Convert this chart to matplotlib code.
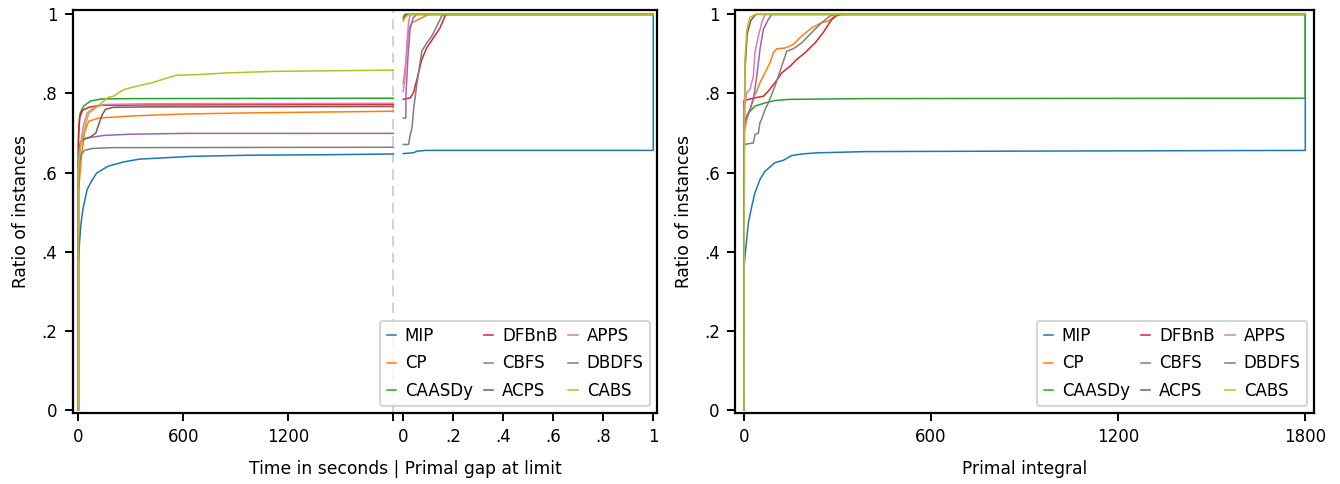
import matplotlib
matplotlib.use("Agg")
import matplotlib.pyplot as plt

plt.rcParams['font.family'] = ['DejaVu Sans']
plt.rcParams['font.size'] = 12

names = ["MIP", "CP", "CAASDy", "DFBnB", "CBFS", "ACPS", "APPS", "DBDFS", "CABS"]
colors = ["#1f77b4", "#ff7f0e", "#2ca02c", "#d62728", "#9467bd",
          "#8c564b", "#e377c2", "#7f7f7f", "#bcbd22"]

# ---- Left panel: time in seconds (0..1800) ----
time_t = {
    "MIP":    [0, 0, 6, 15, 25, 50, 75, 105, 170, 260, 350, 650, 1000, 1400, 1800],
    "CP":     [0, 0, 10, 20, 35, 50, 60, 120, 300, 600, 1000, 1800],
    "CAASDy": [0, 0, 3, 10, 30, 70, 130, 300, 1800],
    "DFBnB":  [0, 0, 2, 8, 25, 60, 120, 400, 1800],
    "CBFS":   [0, 0, 10, 30, 70, 150, 300, 600, 1800],
    "ACPS":   [0, 0, 10, 30, 70, 100, 115, 135, 155, 200, 400, 1800],
    "APPS":   [0, 0, 15, 30, 50, 90, 150, 400, 1800],
    "DBDFS":  [0, 0, 5, 15, 35, 80, 200, 1800],
    "CABS":   [0, 0, 5, 15, 40, 60, 90, 130, 170, 200, 260, 330, 420, 500, 560, 700, 850, 1130, 1800],
}
time_r = {
    "MIP":    [0, 0.37, 0.42, 0.47, 0.505, 0.557, 0.578, 0.599, 0.616, 0.627, 0.634, 0.641, 0.644, 0.645, 0.647],
    "CP":     [0, 0.55, 0.60, 0.65, 0.70, 0.72, 0.73, 0.738, 0.743, 0.748, 0.751, 0.755],
    "CAASDy": [0, 0.68, 0.72, 0.75, 0.768, 0.781, 0.786, 0.787, 0.788],
    "DFBnB":  [0, 0.66, 0.70, 0.74, 0.758, 0.765, 0.770, 0.771, 0.772],
    "CBFS":   [0, 0.64, 0.675, 0.685, 0.689, 0.694, 0.697, 0.699, 0.699],
    "ACPS":   [0, 0.62, 0.67, 0.684, 0.690, 0.70, 0.72, 0.745, 0.76, 0.765, 0.766, 0.767],
    "APPS":   [0, 0.62, 0.68, 0.72, 0.75, 0.765, 0.772, 0.774, 0.775],
    "DBDFS":  [0, 0.58, 0.62, 0.645, 0.656, 0.661, 0.663, 0.664],
    "CABS":   [0, 0.60, 0.64, 0.67, 0.72, 0.75, 0.76, 0.775, 0.79, 0.793, 0.81, 0.818, 0.827, 0.838, 0.846, 0.848, 0.852, 0.856, 0.859],
}

# ---- Left panel: primal gap at limit (0..1) ----
gap_g = {
    "MIP":    [0, 0.041, 0.055, 0.088, 1.0, 1.0],
    "CP":     [0, 0.007, 0.015, 0.021, 0.034, 0.061, 0.088, 0.10, 1.0],
    "CAASDy": [0, 0.006, 1.0],
    "DFBnB":  [0, 0.028, 0.041, 0.061, 0.074, 0.094, 0.121, 0.147, 0.167, 0.174, 1.0],
    "CBFS":   [0, 0.010, 0.011, 0.018, 0.027, 0.040, 0.054, 1.0],
    "ACPS":   [0, 0.012, 1.0],
    "APPS":   [0, 0.007, 0.015, 0.021, 0.028, 1.0],
    "DBDFS":  [0, 0.021, 0.028, 0.035, 0.041, 0.055, 0.074, 0.094, 0.114, 0.134, 0.154, 0.167, 1.0],
    "CABS":   [0, 0.007, 0.021, 1.0],
}
gap_r = {
    "MIP":    [0.648, 0.650, 0.654, 0.656, 0.656, 1.0],
    "CP":     [0.825, 0.861, 0.911, 0.962, 0.979, 0.987, 0.996, 1.0, 1.0],
    "CAASDy": [0.992, 1.0, 1.0],
    "DFBnB":  [0.785, 0.789, 0.802, 0.852, 0.886, 0.916, 0.941, 0.966, 0.996, 1.0, 1.0],
    "CBFS":   [0.738, 0.738, 0.80, 0.886, 0.962, 0.992, 1.0, 1.0],
    "ACPS":   [0.988, 1.0, 1.0],
    "APPS":   [0.805, 0.844, 0.928, 0.980, 1.0, 1.0],
    "DBDFS":  [0.671, 0.671, 0.696, 0.713, 0.759, 0.827, 0.907, 0.928, 0.945, 0.970, 0.996, 1.0, 1.0],
    "CABS":   [0.983, 0.992, 1.0, 1.0],
}

# ---- Right panel: primal integral (0..1800) ----
pi_x = {
    "MIP":    [0, 0, 3, 14, 25, 35, 51, 67, 99, 126, 153, 185, 238, 292, 388, 800, 1800, 1800],
    "CP":     [0, 0, 9, 19, 30, 41, 51, 67, 83, 94, 105, 132, 158, 185, 217, 249, 270, 292, 302, 1800],
    "CAASDy": [0, 0, 14, 35, 67, 99, 142, 388, 1800, 1800],
    "DFBnB":  [0, 0, 35, 62, 78, 99, 121, 148, 169, 196, 228, 254, 281, 297, 313, 1800],
    "CBFS":   [0, 0, 9, 19, 30, 41, 51, 62, 78, 89, 1800],
    "ACPS":   [0, 1, 3, 10, 22, 38, 1800],
    "APPS":   [0, 0, 9, 19, 30, 35, 46, 57, 67, 1800],
    "DBDFS":  [0, 0, 30, 35, 46, 51, 56, 67, 78, 99, 121, 137, 158, 185, 217, 249, 276, 292, 1800],
    "CABS":   [0, 1, 2, 3, 9, 19, 35, 1800],
}
pi_r = {
    "MIP":    [0, 0.36, 0.388, 0.473, 0.515, 0.549, 0.582, 0.603, 0.625, 0.631, 0.643, 0.647, 0.650, 0.651, 0.653, 0.654, 0.656, 1.0],
    "CP":     [0, 0.70, 0.734, 0.759, 0.789, 0.806, 0.827, 0.852, 0.877, 0.903, 0.913, 0.915, 0.924, 0.945, 0.966, 0.979, 0.983, 0.996, 1.0, 1.0],
    "CAASDy": [0, 0.726, 0.751, 0.768, 0.776, 0.782, 0.785, 0.787, 0.788, 1.0],
    "DFBnB":  [0, 0.782, 0.789, 0.793, 0.806, 0.827, 0.852, 0.869, 0.886, 0.903, 0.928, 0.954, 0.987, 0.997, 1.0, 1.0],
    "CBFS":   [0, 0.72, 0.743, 0.759, 0.785, 0.844, 0.911, 0.962, 0.987, 1.0, 1.0],
    "ACPS":   [0, 0.70, 0.86, 0.95, 0.985, 1.0, 1.0],
    "APPS":   [0, 0.76, 0.802, 0.810, 0.844, 0.903, 0.945, 0.979, 1.0, 1.0],
    "DBDFS":  [0, 0.671, 0.675, 0.696, 0.70, 0.726, 0.734, 0.759, 0.776, 0.818, 0.869, 0.907, 0.913, 0.928, 0.954, 0.979, 0.996, 1.0, 1.0],
    "CABS":   [0, 0.60, 0.76, 0.886, 0.962, 0.992, 1.0, 1.0],
}

y_ticks = [0, 0.2, 0.4, 0.6, 0.8, 1.0]
y_ticklabels = ["0", ".2", ".4", ".6", ".8", "1"]
time_ticks = [0, 600, 1200, 1800]
time_ticklabels = ["0", "600", "1200", ""]
gap_ticks = [0, 0.2, 0.4, 0.6, 0.8, 1.0]
gap_ticklabels = ["0", ".2", ".4", ".6", ".8", "1"]
pi_ticks = [0, 600, 1200, 1800]
pi_ticklabels = ["0", "600", "1200", "1800"]

GAP_OFFSET = 1857.0
GAP_SCALE = 1428.6

fig = plt.figure(figsize=(13.4, 4.84), dpi=100)
ax1 = fig.add_axes([0.0543, 0.1467, 0.4360, 0.8326])
ax2 = fig.add_axes([0.5485, 0.1467, 0.4321, 0.8326])

LW = 1.1
for name, c in zip(names, colors):
    ax1.plot(time_t[name], time_r[name], color=c, lw=LW, label=name)
    gx = [GAP_OFFSET + g * GAP_SCALE for g in gap_g[name]]
    ax1.plot(gx, gap_r[name], color=c, lw=LW)
    ax2.plot(pi_x[name], pi_r[name], color=c, lw=LW, label=name)

ax1.axvline(1800, color="#d3d3d3", ls=(0, (5, 3)), lw=1.5, zorder=0)

ax1.set_xlim(-32, 3307)
ax2.set_xlim(-29, 1828)
for ax in (ax1, ax2):
    ax.set_ylim(-0.008, 1.011)
    ax.set_yticks(y_ticks)
    ax.set_yticklabels(y_ticklabels)
    ax.set_ylabel("Ratio of instances", fontsize=12.3, labelpad=8)
    for s in ax.spines.values():
        s.set_linewidth(1.6)
    ax.tick_params(width=1.4, length=6, labelsize=12, pad=5)
    leg = ax.legend(loc="lower right", ncol=3, handlelength=0.55, handletextpad=0.55,
                    columnspacing=0.65, fontsize=12, frameon=True, fancybox=True,
                    borderpad=0.4, labelspacing=0.55, borderaxespad=0.4)
    leg.get_frame().set_edgecolor("#cccccc")
    leg.get_frame().set_linewidth(1.5)

x1_ticks = time_ticks + [GAP_OFFSET + g * GAP_SCALE for g in gap_ticks]
ax1.set_xticks(x1_ticks)
ax1.set_xticklabels(time_ticklabels + gap_ticklabels)
ax1.set_xlabel("Time in seconds | Primal gap at limit", fontsize=12.3, labelpad=10)
ax1.xaxis.label.set_x(0.569)

ax2.set_xticks(pi_ticks)
ax2.set_xticklabels(pi_ticklabels)
ax2.set_xlabel("Primal integral", fontsize=12.3, labelpad=10)

fig.savefig("out.png", dpi=100)
